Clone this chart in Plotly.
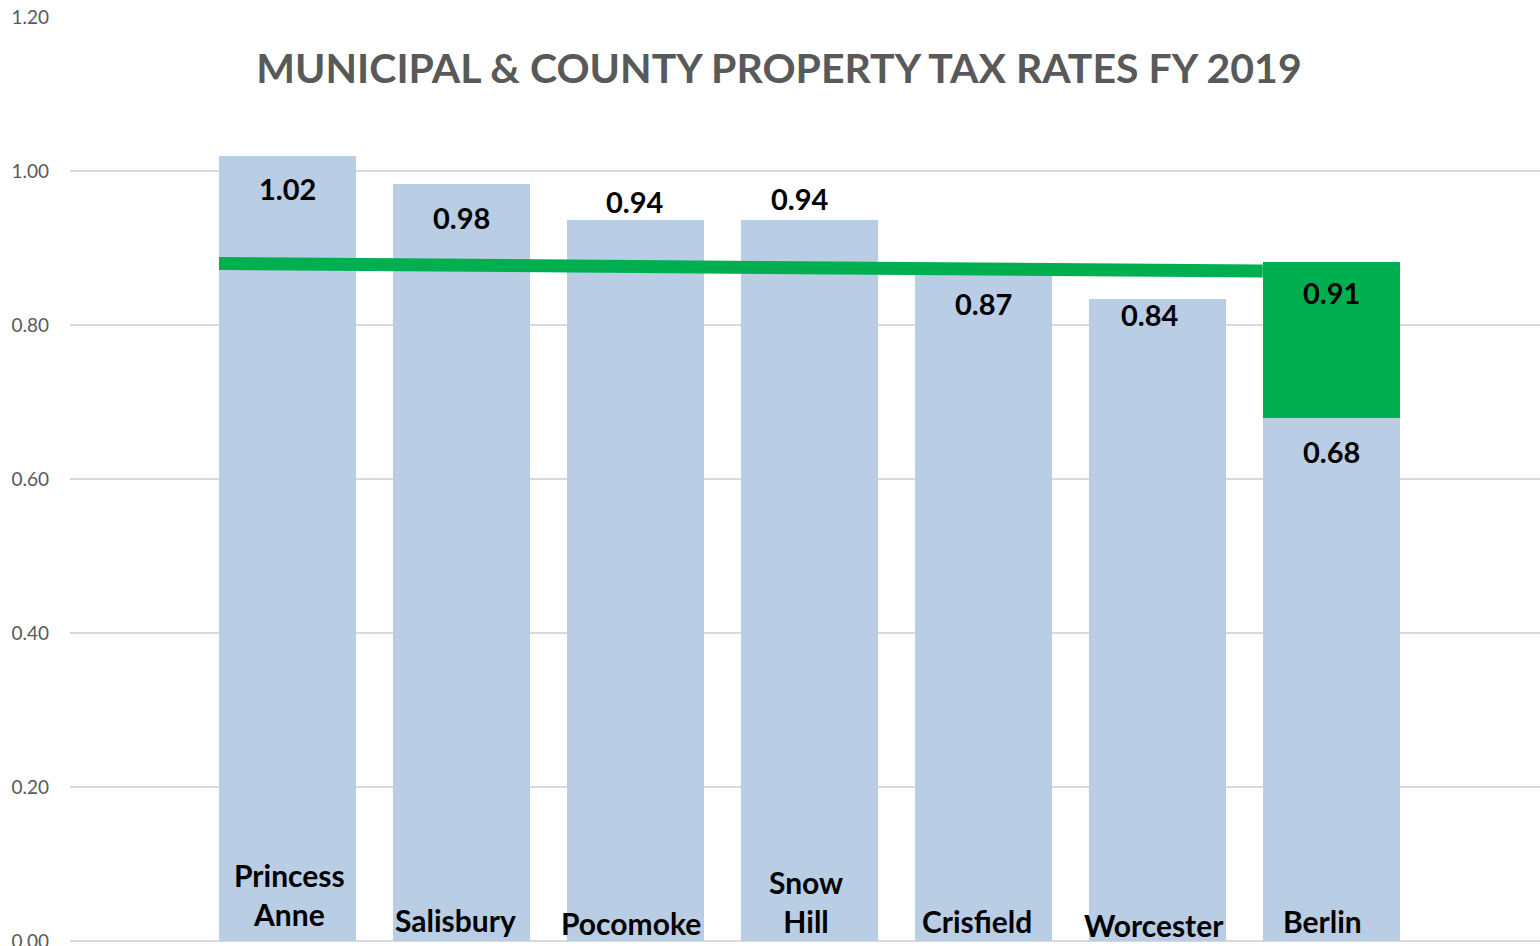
import plotly.graph_objects as go

# ---------------- data ----------------
towns = ["Princess Anne", "Salisbury", "Pocomoke", "Snow Hill", "Crisfield", "Worcester", "Berlin"]
town_text = ["Princess<br>Anne", "Salisbury", "Pocomoke", "Snow<br>Hill", "Crisfield", "Worcester", "Berlin"]
base_rates = [1.02, 0.983, 0.936, 0.936, 0.87, 0.834, 0.679]
berlin_extra = [0, 0, 0, 0, 0, 0, 0.203]
rate_labels = ["1.02", "0.98", "0.94", "0.94", "0.87", "0.84", "0.68"]
extra_label = "0.91"
avg_line_ends = [0.880, 0.870]
y_ticks = [0.0, 0.2, 0.4, 0.6, 0.8, 1.0, 1.2]
y_tick_text = ["0.00", "0.20", "0.40", "0.60", "0.80", "1.00", "1.20"]
title_text = "MUNICIPAL & COUNTY PROPERTY TAX RATES FY 2019"

# ---------------- styling ----------------
BLUE = "#b9cde5"
GREEN = "#00b050"
FONT = "Lato"
bar_w = 0.787
xs = list(range(len(towns)))

# label offsets (pixels) relative to bar tops / baseline
val_yshift = [-33, -33, 19, 22, -32, -16, -33]
val_xshift = [0, 0, 0, -9, 0, -7, 0]
cat_yshift = [47, 21, 18, 40, 20, 16, 20]
cat_xshift = [2, -6, -4, -3, -6, -3, -9]

fig = go.Figure()
fig.add_trace(go.Bar(x=xs, y=base_rates, width=bar_w, marker=dict(color=BLUE, line=dict(width=0)),
                     hoverinfo="skip", showlegend=False))
fig.add_trace(go.Bar(x=xs, y=berlin_extra, width=bar_w, marker=dict(color=GREEN, line=dict(width=0)),
                     hoverinfo="skip", showlegend=False))
fig.add_trace(go.Scatter(x=[xs[0] - bar_w / 2, xs[-1] - bar_w / 2], y=avg_line_ends, mode="lines",
                         line=dict(color=GREEN, width=13), hoverinfo="skip", showlegend=False))

ann = []
for i, x in enumerate(xs):
    ann.append(dict(x=x, y=base_rates[i], text="<b>%s</b>" % rate_labels[i], showarrow=False,
                    yanchor="middle", xanchor="center", yshift=val_yshift[i], xshift=val_xshift[i],
                    font=dict(family=FONT, size=29, color="#000000")))
    ann.append(dict(x=x, y=0, text="<b>%s</b>" % town_text[i], showarrow=False,
                    yanchor="middle", xanchor="center", yshift=cat_yshift[i], xshift=cat_xshift[i],
                    font=dict(family=FONT, size=30, color="#000000")))
ann.append(dict(x=xs[-1], y=base_rates[-1] + berlin_extra[-1], text="<b>%s</b>" % extra_label,
                showarrow=False, yanchor="middle", xanchor="center", yshift=-31,
                font=dict(family=FONT, size=29, color="#000000")))

fig.update_layout(
    barmode="stack",
    width=1540, height=946,
    margin=dict(l=70, r=0, t=17, b=5, autoexpand=False),
    paper_bgcolor="white", plot_bgcolor="white",
    title=dict(text="<b>%s</b>" % title_text, x=779 / 1540, xanchor="center", y=1 - 69 / 946,
               yanchor="middle", font=dict(family=FONT, size=41, color="#595959")),
    annotations=ann,
    xaxis=dict(range=[-1.25, 7.2], showgrid=False, showticklabels=False, zeroline=False,
               showline=False, fixedrange=True, automargin=False),
    yaxis=dict(range=[0, 1.2], tickvals=y_ticks, ticktext=y_tick_text, showgrid=True,
               gridcolor="#d9d9d9", gridwidth=2, zeroline=True, zerolinecolor="#d9d9d9",
               zerolinewidth=2, ticks="", ticklabelstandoff=20, ticklabeloverflow="allow",
               automargin=False,
               tickfont=dict(family=FONT, size=19, color="#595959")),
)

fig.write_html("out.html", config={"displayModeBar": False},
               post_script="document.body.style.margin='0';document.body.style.overflow='hidden';")
